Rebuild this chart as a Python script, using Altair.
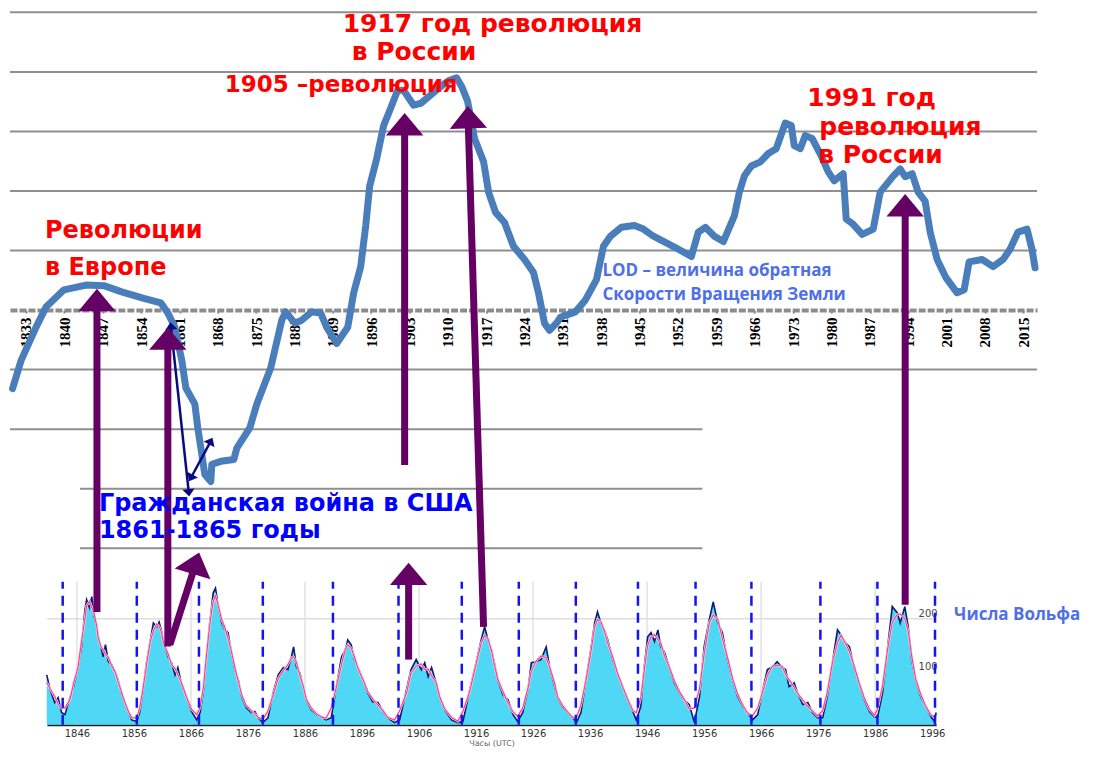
import altair as alt
import pandas as pd

# ---------------- LOD curve (ms) ----------------
lod_year = [1830.54, 1832.09, 1834.82, 1836.65, 1839.93, 1843.94, 1847.22, 1850.32, 1854.33, 1857.62,
            1858.89, 1860.17, 1861.45, 1862.18, 1863.82, 1864.36, 1865.09, 1865.64, 1866.73, 1866.92,
            1868.56, 1870.93, 1871.48, 1873.85, 1875.12, 1877.68, 1879.68, 1880.41, 1882.05, 1883.33,
            1885.15, 1886.79, 1887.89, 1889.71, 1891.72, 1892.81, 1894.09, 1895.00, 1895.73, 1897.00,
            1898.28, 1899.56, 1900.83, 1901.93, 1903.75, 1905.03, 1907.76, 1909.04, 1910.32, 1911.59,
            1912.50, 1913.60, 1914.87, 1916.52, 1917.43, 1918.70, 1920.34, 1921.98, 1923.99, 1925.63,
            1926.54, 1927.64, 1928.55, 1929.83, 1930.55, 1933.29, 1935.11, 1937.12, 1938.40, 1939.67,
            1941.68, 1944.05, 1945.69, 1947.52, 1951.53, 1954.45, 1955.72, 1957.00, 1958.64, 1960.28,
            1962.29, 1963.20, 1964.11, 1965.39, 1967.03, 1968.49, 1969.94, 1971.58, 1972.68, 1973.23,
            1974.32, 1975.23, 1976.51, 1978.15, 1979.43, 1980.52, 1982.16, 1982.71, 1983.99, 1985.63,
            1987.64, 1988.91, 1991.28, 1992.55, 1993.46, 1994.74, 1995.84, 1997.11, 1998.03, 1999.30,
            2000.94, 2002.95, 2004.23, 2005.14, 2007.51, 2009.51, 2011.34, 2012.61, 2014.07, 2015.71,
            2016.62, 2017.17]
lod_ms = [-1.32, -0.85, -0.29, 0.05, 0.34, 0.42, 0.41, 0.31, 0.20, 0.12,
          -0.05, -0.29, -0.85, -1.31, -1.58, -1.98, -2.42, -2.76, -2.88, -2.59,
          -2.54, -2.51, -2.32, -1.98, -1.58, -0.97, -0.17, -0.03, -0.22, -0.17,
          -0.03, -0.05, -0.29, -0.56, -0.29, 0.29, 0.73, 1.41, 2.08, 2.54,
          3.10, 3.39, 3.69, 3.69, 3.44, 3.47, 3.68, 3.78, 3.86, 3.90,
          3.76, 3.51, 2.88, 2.49, 1.98, 1.64, 1.47, 1.07, 0.85, 0.63,
          0.29, -0.22, -0.34, -0.22, -0.12, -0.03, 0.17, 0.51, 1.07, 1.24,
          1.39, 1.42, 1.36, 1.24, 1.05, 0.90, 1.31, 1.39, 1.24, 1.15,
          1.58, 1.98, 2.25, 2.42, 2.49, 2.63, 2.71, 3.14, 3.10, 2.76,
          2.71, 2.93, 2.88, 2.59, 2.32, 2.17, 2.29, 1.53, 1.44, 1.27,
          1.36, 1.98, 2.25, 2.37, 2.24, 2.29, 1.98, 1.83, 1.31, 0.85,
          0.54, 0.29, 0.34, 0.81, 0.85, 0.73, 0.85, 1.02, 1.31, 1.36,
          1.02, 0.71]

top_tick_years = list(range(1833, 2016, 7))

grid_ms = [5, 4, 3, 2, 1, -1, -2, -3, -4]
grid_from = [1830.08] * 7 + [1842.85] * 2
grid_to = [2017.54] * 6 + [1956.45] * 3

# purple arrows: tail -> head
arrow_year0 = [1845.95, 1858.89, 1859.26, 1902.11, 1902.84, 1916.52, 1993.47]
arrow_ms0 = [-5.07, -5.65, -5.62, -2.60, -5.87, -5.32, -4.95]
arrow_year1 = [1845.95, 1858.89, 1864.00, 1902.11, 1902.84, 1913.69, 1993.47]
arrow_ms1 = [0.17, -0.48, -4.25, 3.12, -4.43, 3.24, 1.76]
arrow_angle = [0, 0, 17, 0, 0, 358.3, 0]

# navy double arrows
navy_year0 = [1859.44, 1863.09]
navy_ms0 = [-0.268, -2.82]
navy_year1 = [1862.72, 1866.73]
navy_ms1 = [-3.07, -2.20]
navy_head_year = [1859.44, 1862.72, 1866.73, 1863.09]
navy_head_ms = [-0.268, -3.07, -2.20, -2.82]
navy_head_angle = [354, 174, 28, 208]

# annotations
red_big_text = ["1917 год революция", "в России", "1991 год", "революция", "в России"]
red_big_year = [1890.80, 1892.45, 1975.60, 1977.79, 1977.61]
red_big_ms = [4.664, 4.195, 3.423, 2.936, 2.466]

red_1905_text = ["1905 –революция"]
red_1905_year = [1869.29]
red_1905_ms = [3.658]

red_eu_text = ["Революции", "в Европе"]
red_eu_year = [1836.46, 1836.46]
red_eu_ms = [1.208, 0.587]

blue_big_text = ["Гражданская  война в США", "1861-1865 годы"]
blue_big_year = [1846.31, 1846.31]
blue_big_ms = [-3.372, -3.826]

blue_note_text = ["LOD – величина обратная", "Скорости Вращения Земли", "Числа Вольфа"]
blue_note_year = [1938.22, 1938.22, 2002.40]
blue_note_ms = [0.570, 0.168, -5.20]

# ---------------- Sunspots (Wolf numbers) ----------------
ss_year = [1840.7, 1841.3, 1842.1, 1842.7, 1843.3, 1843.9, 1844.8, 1845.4, 1846.2, 1846.8,
           1847.4, 1847.7, 1848.2, 1848.6, 1849.0, 1849.5, 1849.7, 1850.2, 1850.6, 1851.0,
           1851.5, 1852.1, 1852.7, 1853.2, 1853.8, 1854.4, 1855.0, 1855.6, 1856.5, 1857.0,
           1857.6, 1858.2, 1858.8, 1859.4, 1860.0, 1860.4, 1860.8, 1861.2, 1862.0, 1862.6,
           1863.2, 1863.7, 1864.3, 1865.2, 1866.1, 1867.0, 1867.6, 1868.2, 1868.7, 1869.3,
           1869.9, 1870.3, 1870.8, 1871.4, 1872.0, 1872.5, 1873.1, 1873.7, 1874.3, 1874.9,
           1875.7, 1876.6, 1877.2, 1877.8, 1878.6, 1879.5, 1880.4, 1881.3, 1882.2, 1883.0,
           1883.6, 1884.0, 1884.5, 1885.1, 1885.7, 1886.2, 1887.1, 1888.0, 1888.9, 1889.7,
           1890.6, 1891.5, 1892.4, 1893.1, 1893.5, 1894.1, 1894.7, 1895.3, 1896.2, 1897.0,
           1897.9, 1898.8, 1899.7, 1900.5, 1901.7, 1902.6, 1903.8, 1904.6, 1905.5, 1906.4,
           1907.0, 1907.6, 1908.2, 1909.0, 1909.6, 1910.5, 1911.7, 1912.8, 1913.7, 1914.9,
           1916.0, 1916.9, 1917.5, 1918.1, 1918.7, 1919.2, 1919.8, 1920.7, 1921.6, 1922.5,
           1923.3, 1924.2, 1925.1, 1925.7, 1926.5, 1927.4, 1928.3, 1928.9, 1929.8, 1930.3,
           1931.2, 1932.1, 1933.0, 1933.6, 1934.4, 1935.3, 1936.2, 1936.8, 1937.3, 1937.9,
           1938.5, 1939.1, 1940.0, 1940.8, 1941.7, 1942.6, 1943.5, 1944.1, 1944.9, 1945.5,
           1946.1, 1946.7, 1947.3, 1947.9, 1948.4, 1949.0, 1949.9, 1950.8, 1951.7, 1952.5,
           1953.4, 1954.3, 1955.2, 1956.0, 1956.9, 1957.6, 1958.4, 1959.2, 1960.1, 1961.0,
           1961.9, 1962.8, 1963.6, 1964.5, 1965.4, 1966.3, 1967.1, 1968.0, 1968.8, 1969.7,
           1970.3, 1970.9, 1971.8, 1972.4, 1973.3, 1974.2, 1975.0, 1975.9, 1976.8, 1977.6,
           1978.5, 1979.4, 1980.0, 1980.6, 1981.5, 1982.3, 1983.2, 1984.1, 1985.0, 1985.9,
           1986.4, 1987.3, 1988.2, 1989.0, 1989.9, 1990.4, 1991.2, 1991.8, 1992.4, 1993.1,
           1994.0, 1994.9, 1995.8, 1996.4, 1996.7]
ss_wolf = [94, 66, 42, 51, 23, 19, 53, 72, 109, 147,
           217, 236, 221, 242, 204, 185, 166, 147, 128, 151,
           119, 113, 100, 85, 60, 42, 25, 9, 6, 23,
           66, 117, 155, 192, 185, 194, 179, 155, 128, 117,
           94, 108, 79, 53, 25, 9, 23, 66, 128, 192,
           249, 258, 223, 192, 179, 174, 136, 104, 85, 53,
           32, 23, 25, 13, 4, 13, 60, 94, 108, 104,
           128, 147, 109, 98, 72, 47, 28, 19, 15, 9,
           13, 72, 128, 142, 160, 151, 123, 108, 85, 60,
           43, 42, 25, 13, 4, 9, 66, 104, 123, 104,
           117, 91, 108, 79, 53, 28, 9, 4, 6, 66,
           117, 160, 185, 160, 142, 117, 85, 57, 47, 19,
           6, 23, 66, 117, 119, 123, 147, 109, 72, 51,
           34, 23, 13, 4, 23, 85, 147, 192, 213, 192,
           179, 160, 123, 98, 72, 47, 25, 9, 34, 109,
           166, 174, 157, 179, 147, 138, 109, 79, 60, 47,
           38, 4, 53, 147, 198, 232, 192, 174, 123, 85,
           53, 34, 23, 9, 19, 66, 104, 109, 119, 108,
           104, 72, 79, 60, 38, 42, 23, 13, 13, 53,
           117, 179, 170, 157, 147, 109, 79, 47, 25, 15,
           13, 60, 147, 223, 211, 192, 223, 185, 123, 85,
           53, 34, 15, 6, 23]
ss_tick_years = list(range(1846, 1997, 10))
ss_grid_years = list(range(1846, 1987, 20))
ss_min_years = [1843.5, 1856.5, 1867.4, 1878.6, 1890.9, 1902.4, 1913.5, 1923.5,
                1933.5, 1944.4, 1954.5, 1964.3, 1976.4, 1986.4, 1996.5]
ss_span = [1840.74, 1996.7]

# ---------------- layout / styles ----------------
W, H = 1080, 745
ZERO_Y = 302
PX_PER_MS = 59.6
SS_TOP = 270
PURPLE = "#650065"
NAVY = "#0a0a80"
HEAD = "M0,-0.6L1,0.6L-1,0.6Z"

lod_xscale = alt.Scale(domain=[1830.08, 2017.54], range=[2, 1030], nice=False, zero=False)
lod_yscale = alt.Scale(domain=[-(H - ZERO_Y) / PX_PER_MS, ZERO_Y / PX_PER_MS], nice=False, zero=False)
top_axis = alt.Axis(orient="bottom", offset=-(H - ZERO_Y), values=top_tick_years, format="d",
                    labelAngle=270, labelFont="Liberation Serif", labelFontWeight="bold",
                    labelFontSize=15, labelColor="black", labelPadding=4, labelFlush=False,
                    labelOverlap=False, domainColor="#8c8c8c", domainWidth=4, domainDash=[7, 2],
                    tickColor="#8c8c8c", tickSize=3, tickWidth=2, grid=False, title=None)


def lx(f):
    return alt.X(f"{f}:Q", scale=lod_xscale, axis=top_axis, title=None)


def ly(f):
    return alt.Y(f"{f}:Q", scale=lod_yscale, axis=None, title=None)


ss_xscale = alt.Scale(domain=ss_span, range=[39, 929], nice=False, zero=False)
ss_yscale = alt.Scale(domain=[0, 200], range=[717, 611], nice=False, zero=False)
ss_xaxis = alt.Axis(orient="bottom", offset=-(H - 717), values=ss_tick_years, format="d",
                    labelFont="DejaVu Sans", labelFontSize=10, labelColor="#333333",
                    labelPadding=4, labelFlush=False, labelOverlap=False,
                    domainColor="#222222", domainWidth=2, ticks=False, grid=False,
                    title="Часы (UTC)", titleFont="DejaVu Sans", titleFontSize=8,
                    titleFontWeight="normal", titleColor="#666666", titlePadding=1)
ss_yaxis = alt.Axis(orient="right", offset=-(W - 929), values=[100, 200], format="d",
                    labelFont="DejaVu Sans", labelFontSize=10, labelColor="#444444",
                    labelAlign="right", labelPadding=1, labelOffset=-5, ticks=False, tickSize=0,
                    domain=False, grid=False, title=None)


def sx(f):
    return alt.X(f"{f}:Q", scale=ss_xscale, axis=ss_xaxis, title=None)


def sy(f):
    return alt.Y(f"{f}:Q", scale=ss_yscale, axis=ss_yaxis, title=None)


# ---------------- sunspot panel ----------------
ss_df = pd.DataFrame({"t": ss_year, "wolf": ss_wolf, "base": [0] * len(ss_year)})
vgrid_df = pd.DataFrame({"t": ss_grid_years, "lo": 0, "hi": SS_TOP})
hgrid_df = pd.DataFrame({"t0": [ss_span[0]], "t1": [ss_span[1]], "w": [200]})
min_df = pd.DataFrame({"t": ss_min_years, "lo": 0, "hi": SS_TOP})

ss_vgrid = alt.Chart(vgrid_df).mark_rule(color="#e2e2e2", strokeWidth=1.5).encode(
    x=sx("t"), y=sy("lo"), y2="hi:Q")
ss_hgrid = alt.Chart(hgrid_df).mark_rule(color="#dedede", strokeWidth=1.5).encode(
    x=sx("t0"), x2="t1:Q", y=sy("w"))
ss_area = alt.Chart(ss_df).mark_area(color="#4fd8f6", opacity=1).encode(
    x=sx("t"), y=sy("wolf"), y2="base:Q")
ss_navy = alt.Chart(ss_df).mark_line(color="#0d1a78", strokeWidth=1.6).encode(
    x=sx("t"), y=sy("wolf"))
ss_yellow = alt.Chart(ss_df).transform_window(
    sm="mean(wolf)", frame=[-1, 1], sort=[{"field": "t"}]
).mark_line(color="#f3eea0", strokeWidth=2.4).encode(x=sx("t"), y=sy("sm"))
ss_magenta = alt.Chart(ss_df).transform_window(
    sm="mean(wolf)", frame=[-1, 1], sort=[{"field": "t"}]
).mark_line(color="#ff30d0", strokeWidth=1.2).encode(x=sx("t"), y=sy("sm"))
ss_mins = alt.Chart(min_df).mark_rule(color="#1414f0", strokeWidth=2.5, strokeDash=[10, 7]).encode(
    x=sx("t"), y=sy("lo"), y2="hi:Q")

sun = alt.layer(ss_vgrid, ss_hgrid, ss_area, ss_navy, ss_yellow, ss_magenta, ss_mins)

# ---------------- LOD panel ----------------
lod_df = pd.DataFrame({"year": lod_year, "ms": lod_ms})
grid_df = pd.DataFrame({"year": grid_from, "year_end": grid_to, "ms": grid_ms})
arrow_df = pd.DataFrame({"year": arrow_year0, "ms": arrow_ms0, "year_end": arrow_year1,
                         "ms_end": arrow_ms1, "angle": arrow_angle})
navy_df = pd.DataFrame({"year": navy_year0, "ms": navy_ms0, "year_end": navy_year1, "ms_end": navy_ms1})
navy_head_df = pd.DataFrame({"year": navy_head_year, "ms": navy_head_ms, "angle": navy_head_angle})

grid = alt.Chart(grid_df).mark_rule(color="#8f8f8f", strokeWidth=2).encode(
    x=lx("year"), x2="year_end:Q", y=ly("ms"))
lod_line = alt.Chart(lod_df).mark_line(color="#4a7ebb", strokeWidth=7, strokeJoin="round",
                                       strokeCap="round").encode(x=lx("year"), y=ly("ms"))
navy_shafts = alt.Chart(navy_df).mark_rule(color=NAVY, strokeWidth=2.5).encode(
    x=lx("year"), y=ly("ms"), x2="year_end:Q", y2="ms_end:Q")
navy_heads = alt.Chart(navy_head_df).mark_point(shape=HEAD, filled=True, size=150, color=NAVY,
                                                opacity=1, strokeWidth=0).encode(
    x=lx("year"), y=ly("ms"), angle=alt.Angle("angle:Q", scale=None))
shafts = alt.Chart(arrow_df).mark_rule(color=PURPLE, strokeWidth=7).encode(
    x=lx("year"), y=ly("ms"), x2="year_end:Q", y2="ms_end:Q")
heads = alt.Chart(arrow_df).mark_point(shape=HEAD, filled=True, size=1400, color=PURPLE,
                                       opacity=1, strokeWidth=0).encode(
    x=lx("year_end"), y=ly("ms_end"), angle=alt.Angle("angle:Q", scale=None))


def text_layer(labels, years, ms, size, color, font="DejaVu Sans"):
    df = pd.DataFrame({"label": labels, "year": years, "ms": ms})
    return alt.Chart(df).mark_text(align="left", baseline="alphabetic", font=font,
                                   fontSize=size, fontWeight="bold", color=color).encode(
        x=lx("year"), y=ly("ms"), text="label:N")


t_red_big = text_layer(red_big_text, red_big_year, red_big_ms, 25, "#ff0000")
t_1905 = text_layer(red_1905_text, red_1905_year, red_1905_ms, 23, "#ff0000")
t_eu = text_layer(red_eu_text, red_eu_year, red_eu_ms, 24, "#ff0000")
t_blue_big = text_layer(blue_big_text, blue_big_year, blue_big_ms, 24, "#0000ff")
t_note = text_layer(blue_note_text, blue_note_year, blue_note_ms, 17, "#4f6fe8", font="Open Sans")

lod = alt.layer(grid, lod_line, navy_shafts, navy_heads, shafts, heads,
                t_red_big, t_1905, t_eu, t_blue_big, t_note)

chart = alt.layer(sun, lod).resolve_scale(x="independent", y="independent").properties(
    width=W, height=H, autosize=alt.AutoSizeParams(type="none"), padding=0,
    background="white"
).configure_view(stroke=None)

chart.save("out.html", embed_options={"renderer": "svg", "actions": False})
